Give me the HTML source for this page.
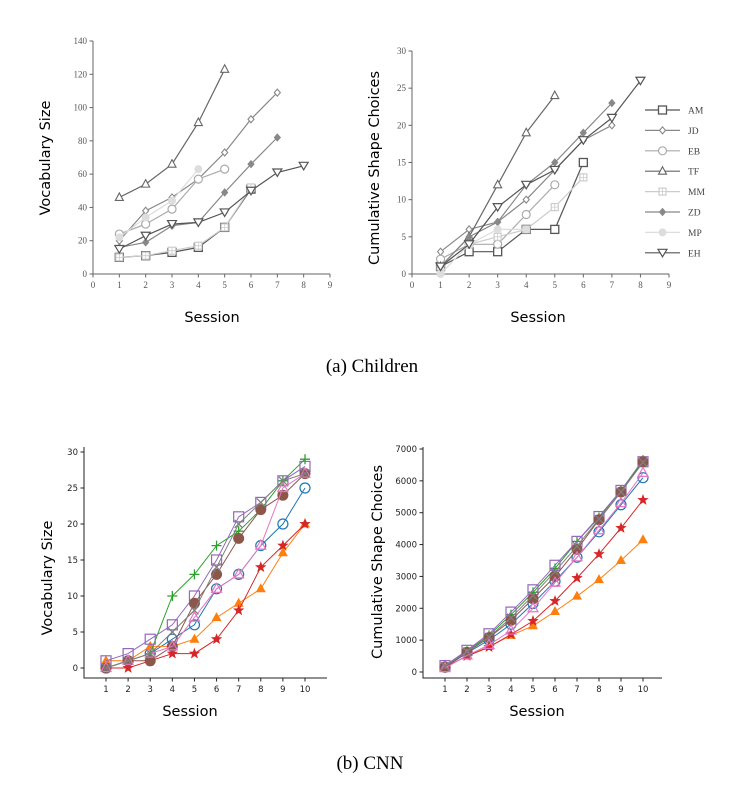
<!DOCTYPE html>
<html><head><meta charset="utf-8"><style>
html,body{margin:0;padding:0;background:#fff;}
svg{display:block;}
</style></head><body>
<svg id="s" width="744" height="802" xmlns="http://www.w3.org/2000/svg">
<text x="372" y="372" font-family="Liberation Serif, serif" font-size="19" text-anchor="middle">(a) Children</text>
<text x="370" y="769" font-family="Liberation Serif, serif" font-size="19" text-anchor="middle">(b) CNN</text>
</svg>
<script>
// ---- Children data ----
const childNames = ["AM","JD","EB","TF","MM","ZD","MP","EH"];
const childColors = ["#555","#888","#aaa","#666","#ccc","#888","#ddd","#555"];
const childMarkers = ["square","diamond","circle","tri","sqcross","fdiamond","fcircle","tridown"];
const vocabAM = [10,11,13,16,28,51];
const vocabJD = [20,38,46,57,73,93,109];
const vocabEB = [24,30,39,57,63];
const vocabTF = [46,54,66,91,123];
const vocabMM = [10,11,14,17,28,52];
const vocabZD = [16,19,29,31,49,66,82];
const vocabMP = [22,34,44,63];
const vocabEH = [15,23,30,31,37,50,61,65];
const shapeAM = [1,3,3,6,6,15];
const shapeJD = [3,6,7,10,14,18,20];
const shapeEB = [2,4,4,8,12];
const shapeTF = [1,5,12,19,24];
const shapeMM = [1,4,5,6,9,13];
const shapeZD = [1,5,7,12,15,19,23];
const shapeMP = [0,4,6,6];
const shapeEH = [1,4,9,12,14,18,21,26];
const childXTicks = [0,1,2,3,4,5,6,7,8,9];
const childVocabTicks = [0,20,40,60,80,100,120,140];
const childShapeTicks = [0,5,10,15,20,25,30];
// ---- CNN data ----
const cnnColors = ["#1f77b4","#ff7f0e","#2ca02c","#d62728","#9467bd","#8c564b","#e377c2","#7f7f7f"];
const cnnMarkers = ["ocircle","ftri","plus","star","osquare","fcircleB","otri","x"];
const cnnVocab = [
 [0,1,2,4,6,11,13,17,20,25],
 [1,1,3,3,4,7,9,11,16,20],
 [0,1,2,10,13,17,19,22,26,29],
 [0,0,1,2,2,4,8,14,17,20],
 [1,2,4,6,10,15,21,23,26,28],
 [0,1,1,3,9,13,18,22,24,27],
 [0,1,2,3,7,11,13,17,25,27],
 [0,1,2,5,8,14,20,23,26,27]
];
const cnnShape = [
 [150,600,1000,1500,2150,2850,3600,4400,5250,6100],
 [150,500,800,1150,1450,1900,2380,2900,3500,4150],
 [200,650,1150,1800,2500,3250,4100,4850,5700,6650],
 [150,500,780,1180,1600,2230,2950,3700,4520,5400],
 [200,680,1200,1880,2580,3350,4100,4880,5700,6600],
 [150,620,1080,1620,2300,3000,3850,4780,5650,6600],
 [120,520,850,1300,2000,2800,3600,4450,5300,6250],
 [180,640,1100,1700,2400,3150,3950,4800,5650,6580]
];
const cnnXTicks = [1,2,3,4,5,6,7,8,9,10];
const cnnVocabTicks = [0,5,10,15,20,25,30];
const cnnShapeTicks = [0,1000,2000,3000,4000,5000,6000,7000];

const NS="http://www.w3.org/2000/svg";
const svg=document.getElementById('s');
function mk(tag,attrs,parent){const e=document.createElementNS(NS,tag);for(const k in attrs)e.setAttribute(k,attrs[k]);(parent||svg).appendChild(e);return e;}

function marker(g,type,x,y,c,s){
  let e;
  if(type==="square"){e=mk('rect',{x:x-4,y:y-4,width:8,height:8,fill:'#fff',stroke:c,'stroke-width':1.3},g);}
  else if(type==="sqcross"){e=mk('rect',{x:x-3.5,y:y-3.5,width:7,height:7,fill:'#fff',stroke:c,'stroke-width':1.2},g);mk('path',{d:`M${x-3.5} ${y}H${x+3.5}M${x} ${y-3.5}V${y+3.5}`,stroke:c,'stroke-width':0.8},g);}
  else if(type==="diamond"){e=mk('path',{d:`M${x} ${y-3.5}L${x+3} ${y}L${x} ${y+3.5}L${x-3} ${y}Z`,fill:'#fff',stroke:c,'stroke-width':1.1},g);}
  else if(type==="fdiamond"){e=mk('path',{d:`M${x} ${y-3.5}L${x+3} ${y}L${x} ${y+3.5}L${x-3} ${y}Z`,fill:c,stroke:c,'stroke-width':1},g);}
  else if(type==="circle"){e=mk('circle',{cx:x,cy:y,r:4,fill:'#fff',stroke:c,'stroke-width':1.2},g);}
  else if(type==="fcircle"){e=mk('circle',{cx:x,cy:y,r:3.5,fill:c,stroke:c},g);}
  else if(type==="tri"){e=mk('path',{d:`M${x} ${y-4.5}L${x+4} ${y+3}L${x-4} ${y+3}Z`,fill:'#fff',stroke:c,'stroke-width':1.1},g);}
  else if(type==="tridown"){e=mk('path',{d:`M${x} ${y+4}L${x+4.5} ${y-3.5}L${x-4.5} ${y-3.5}Z`,fill:'#fff',stroke:c,'stroke-width':1.2},g);}
  else if(type==="ocircle"){e=mk('circle',{cx:x,cy:y,r:5,fill:'none',stroke:c,'stroke-width':1.2},g);}
  else if(type==="fcircleB"){e=mk('circle',{cx:x,cy:y,r:5.5,fill:c},g);}
  else if(type==="osquare"){e=mk('rect',{x:x-5,y:y-5,width:10,height:10,fill:'none',stroke:c,'stroke-width':1.2},g);}
  else if(type==="ftri"){e=mk('path',{d:`M${x} ${y-5.5}L${x+5} ${y+3.5}L${x-5} ${y+3.5}Z`,fill:c},g);}
  else if(type==="otri"){e=mk('path',{d:`M${x} ${y-5.5}L${x+5} ${y+3.5}L${x-5} ${y+3.5}Z`,fill:'none',stroke:c,'stroke-width':1.2},g);}
  else if(type==="plus"){e=mk('path',{d:`M${x-5} ${y}H${x+5}M${x} ${y-5}V${y+5}`,stroke:c,'stroke-width':1.3},g);}
  else if(type==="x"){e=mk('path',{d:`M${x-4} ${y-4}L${x+4} ${y+4}M${x-4} ${y+4}L${x+4} ${y-4}`,stroke:c,'stroke-width':1.3},g);}
  else if(type==="star"){let d="";for(let i=0;i<10;i++){const a=-Math.PI/2+i*Math.PI/5,r=i%2?2.5:6;d+=(i?"L":"M")+(x+r*Math.cos(a)).toFixed(2)+" "+(y+r*Math.sin(a)).toFixed(2);}e=mk('path',{d:d+"Z",fill:c},g);}
  
  
}

function chart(o){
  const g=mk('g',{});
  
  
  const sx=v=>o.x0+(v-o.xmin)*(o.x1-o.x0)/(o.xmax-o.xmin);
  const sy=v=>o.y0+(v-o.ymin)*(o.y1-o.y0)/(o.ymax-o.ymin);
  const ax=mk('path',{d:`M${o.axX} ${o.axTop}V${o.axY}H${o.axRight}`,fill:'none',stroke:o.axColor,'stroke-width':1},g);
  
  o.xt.forEach(t=>{const X=sx(t);mk('line',{x1:X,x2:X,y1:o.axY,y2:o.axY+3.5,stroke:o.axColor},g);
    const tx=mk('text',{x:X,y:o.axY+14,'font-family':o.font,'font-size':o.fs,fill:o.tc,'text-anchor':'middle'},g);tx.textContent=t;
    });
  o.yt.forEach(t=>{const Y=sy(t);mk('line',{x1:o.axX-3.5,x2:o.axX,y1:Y,y2:Y,stroke:o.axColor},g);
    const tx=mk('text',{x:o.axX-6,y:Y+3,'font-family':o.font,'font-size':o.fs,fill:o.tc,'text-anchor':'end'},g);tx.textContent=t;
    });
  const xl=mk('text',{x:o.xlx,y:o.xly,'font-family':'DejaVu Sans, sans-serif','font-size':14.5,'text-anchor':'middle'},g);xl.textContent='Session';
  
  const yl=mk('text',{x:0,y:0,transform:`translate(${o.ylx},${o.yly}) rotate(-90)`,'font-family':'DejaVu Sans, sans-serif','font-size':14.5,'text-anchor':'middle'},g);yl.textContent=o.ylabel;
  
  o.series.forEach((s,i)=>{
    const sg=mk('g',{},g);
    
    
    const pts=s.map((v,j)=>sx(j+1).toFixed(1)+","+sy(v).toFixed(1)).join(" ");
    mk('polyline',{points:pts,fill:'none',stroke:o.colors[i],'stroke-width':o.lw},sg);
    s.forEach((v,j)=>marker(sg,o.markers[i],sx(j+1),sy(v),o.colors[i]));
  });
}
const serif='Liberation Serif, serif', sans='DejaVu Sans, sans-serif';
chart({name:'children-vocab-chart',x0:93,x1:330,xmin:0,xmax:9,y0:274,y1:41,ymin:0,ymax:140,axX:93,axY:274,axTop:41,axRight:330,axColor:'#666',
  xt:childXTicks,yt:childVocabTicks,font:serif,fs:9,tc:'#555',xlx:212,xly:322,ylx:50,yly:158,ylabel:'Vocabulary Size',
  series:[vocabAM,vocabJD,vocabEB,vocabTF,vocabMM,vocabZD,vocabMP,vocabEH],snames:childNames,colors:childColors,markers:childMarkers,lw:1.2});
chart({name:'children-shape-chart',x0:412,x1:669,xmin:0,xmax:9,y0:274,y1:51,ymin:0,ymax:30,axX:412,axY:274,axTop:51,axRight:669,axColor:'#666',
  xt:childXTicks,yt:childShapeTicks,font:serif,fs:9,tc:'#555',xlx:538,xly:322,ylx:379,yly:168,ylabel:'Cumulative Shape Choices',
  series:[shapeAM,shapeJD,shapeEB,shapeTF,shapeMM,shapeZD,shapeMP,shapeEH],snames:childNames,colors:childColors,markers:childMarkers,lw:1.2});
// legend
const lg=mk('g',{});


childNames.forEach((n,i)=>{
  const y=110+i*20.4;
  const eg=mk('g',{},lg);
  
  
  mk('line',{x1:645,x2:680,y1:y,y2:y,stroke:childColors[i],'stroke-width':1.2},eg);
  marker(eg,childMarkers[i],662.5,y,childColors[i]);
  const t=mk('text',{x:688,y:y+3.5,'font-family':serif,'font-size':9.5,fill:'#444'},eg);t.textContent=n;
});
chart({name:'cnn-vocab-chart',x0:106,x1:305,xmin:1,xmax:10,y0:668,y1:452,ymin:0,ymax:30,axX:84,axY:678,axTop:447,axRight:327,axColor:'#222',
  xt:cnnXTicks,yt:cnnVocabTicks,font:sans,fs:8.5,tc:'#222',xlx:190,xly:716,ylx:52,yly:578,ylabel:'Vocabulary Size',
  series:cnnVocab,colors:cnnColors,markers:cnnMarkers,lw:1});
chart({name:'cnn-shape-chart',x0:445,x1:643,xmin:1,xmax:10,y0:672,y1:449,ymin:0,ymax:7000,axX:423,axY:678,axTop:447,axRight:662,axColor:'#222',
  xt:cnnXTicks,yt:cnnShapeTicks,font:sans,fs:8.5,tc:'#222',xlx:537,xly:716,ylx:382,yly:562,ylabel:'Cumulative Shape Choices',
  series:cnnShape,colors:cnnColors,markers:cnnMarkers,lw:1});
</script>
</body></html>
